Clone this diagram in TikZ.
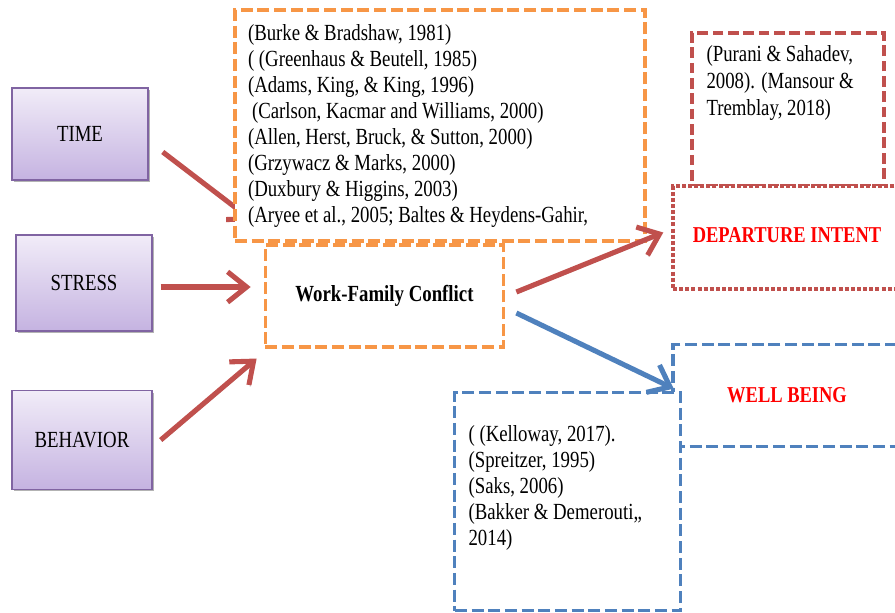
\documentclass[tikz,border=0pt]{standalone}
\usepackage{fontspec}
\setmainfont{Liberation Serif}[FakeStretch=0.815]
\usetikzlibrary{arrows.meta,positioning,calc,shadows}
\definecolor{boxline}{HTML}{8064A2}
\definecolor{boxtop}{HTML}{F1ECF8}
\definecolor{boxbot}{HTML}{C5B3E1}
\definecolor{wfcorange}{HTML}{F79646}
\definecolor{arrred}{HTML}{C0504D}
\definecolor{arrblue}{HTML}{4F81BD}
\newcommand{\citesize}{\fontsize{17.3}{19.5}\selectfont}

\begin{document}
\begin{tikzpicture}[x=0.75pt, y=-0.75pt,
  factor/.style={rectangle, draw=boxline, line width=1.1pt, top color=boxtop, bottom color=boxbot,
    font=\fontsize{17.3}{19}\selectfont,
    drop shadow={shadow xshift=1.2pt, shadow yshift=-1.6pt, fill=black!50, opacity=0.6}},
  cite/.style={align=flush left, font=\citesize, inner sep=0pt},
  orangebox/.style={rectangle, draw=wfcorange, line width=2.3pt, dash pattern=on 9pt off 3.5pt, fill=white},
  redbox/.style={rectangle, draw=arrred, line width=2.6pt, dash pattern=on 8pt off 3.5pt},
  dotbox/.style={rectangle, draw=arrred, line width=2.6pt, dash pattern=on 3pt off 1.6pt},
  bluebox/.style={rectangle, draw=arrblue, line width=2.3pt, dash pattern=on 9pt off 3.5pt, fill=white},
  outcome/.style={font=\bfseries\fontsize{17}{19}\selectfont, text=red},
  link/.style={line width=3.8pt, -{Straight Barb[length=5mm, width=8mm]},
    preaction={draw=black!30, transform canvas={shift={(0.8pt,-1.3pt)}}}}
]
  \clip (0,0) rectangle (895,613);

  \node[factor, minimum width=102pt, minimum height=69pt] (time) at (80,134) {TIME};
  \node[factor, minimum width=102pt, minimum height=72pt] (stress) at (84,283) {STRESS};
  \node[factor, minimum width=105pt, minimum height=74pt] (behavior) at (82,440) {BEHAVIOR};

  \node[orangebox, minimum width=179pt, minimum height=76.5pt,
    font=\bfseries\fontsize{17.3}{19}\selectfont] (wfc) at (384.5,296) {Work-Family Conflict};

  \draw[link, draw=arrred] ([shift={(14,18)}]time.east) -- ([shift={(-10,-22)}]wfc.north west);

  \node[orangebox, cite, inner xsep=9.75pt, text width=288pt, minimum height=173.25pt] (refs) at (440,125.5)
    {(Burke \& Bradshaw, 1981)\\
     ( (Greenhaus \& Beutell, 1985)\\
     (Adams, King, \& King, 1996)\\
     \hspace*{3pt}(Carlson, Kacmar and Williams, 2000)\\
     (Allen, Herst, Bruck, \& Sutton, 2000)\\
     (Grzywacz \& Marks, 2000)\\
     (Duxbury \& Higgins, 2003)\\
     (Aryee et al., 2005; Baltes \& Heydens-Gahir,};

  \node[redbox, minimum width=144pt, minimum height=115pt] (purani) at (788,109.5) {};
  \node[cite, anchor=north west, font=\fontsize{17.3}{20.25}\selectfont] (puranitext)
    at ([shift={(16,14)}]purani.north west)
    {(Purani \& Sahadev,\\2008). (Mansour \&\\Tremblay, 2018)};
  \node[dotbox, fill=white, minimum width=171pt, minimum height=77pt, outcome] (departure) at (787,237.5)
    {\raisebox{4pt}{DEPARTURE INTENT}};

  \node[bluebox, minimum width=171pt, minimum height=76pt, outcome] (wellbeing) at (787,395.5) {WELL BEING};
  \node[bluebox, minimum width=169pt, minimum height=164pt] (kelloway) at (567.5,501.5) {};
  \node[cite, anchor=north west] (kellowaytext) at ([shift={(15,35)}]kelloway.north west)
    {( (Kelloway, 2017).\\(Spreitzer, 1995)\\(Saks, 2006)\\(Bakker \& Demerouti,,\\2014)};

  \draw[link, draw=arrred] ([shift={(8,4)}]stress.east) -- ([shift={(-13,-9)}]wfc.west);
  \draw[link, draw=arrred] ([shift={(8,0)}]behavior.east) -- ([shift={(-7,10)}]wfc.south west);
  \draw[link, draw=arrred] ([shift={(11,-4)}]wfc.east) -- ([shift={(-8,-5)}]departure.west);
  \draw[link, draw=arrblue] ([shift={(11,17)}]wfc.east) -- ([shift={(-8,-2)}]kelloway.north east);
\end{tikzpicture}
\end{document}
